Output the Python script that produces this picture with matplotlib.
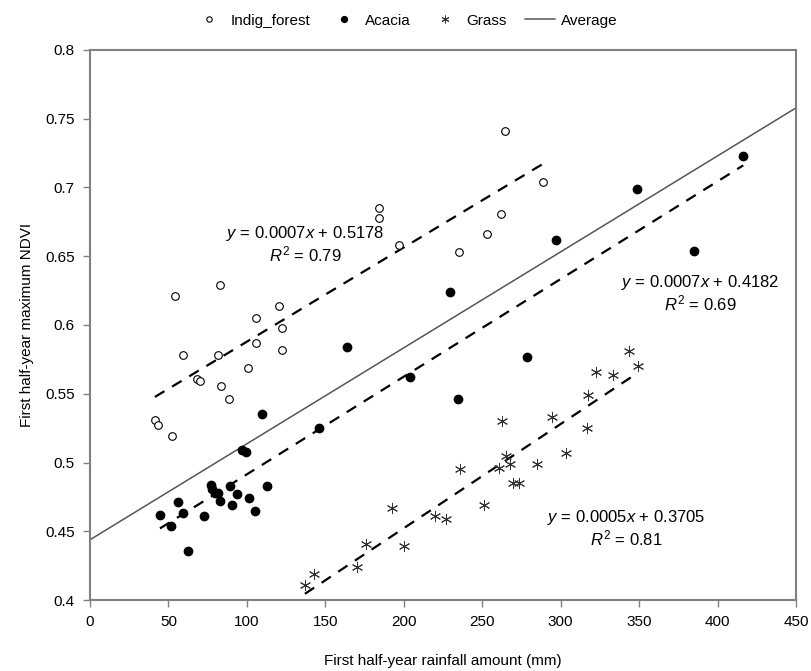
import numpy as np
import matplotlib
matplotlib.use("Agg")
import matplotlib.pyplot as plt

plt.rcParams['font.family'] = ['Liberation Sans', 'DejaVu Sans']
plt.rcParams['mathtext.fontset'] = 'custom'
plt.rcParams['mathtext.rm'] = 'Liberation Sans'
plt.rcParams['mathtext.it'] = 'Liberation Sans:italic'

# Indig_forest (open circles)
forest_x = [41.4, 43.6, 52.0, 59.1, 68.0, 70.1, 81.8, 83.7, 88.6, 100.5, 106.0, 106.0,
            120.7, 122.2, 122.6, 54.2, 82.9, 184.4, 184.4, 197.1, 235.0, 264.7, 289.0,
            261.8, 252.8]
forest_y = [0.531, 0.527, 0.519, 0.578, 0.561, 0.559, 0.578, 0.556, 0.546, 0.569, 0.587, 0.605,
            0.614, 0.598, 0.582, 0.621, 0.629, 0.685, 0.678, 0.658, 0.653, 0.741, 0.704,
            0.681, 0.666]

# Acacia (filled circles)
acacia_x = [44.6, 51.4, 55.9, 59.5, 62.5, 72.4, 77.1, 77.5, 79.7, 81.8, 82.6, 89.4, 90.3,
            93.9, 96.7, 99.4, 101.1, 105.4, 112.6, 109.8, 146.2, 164.0, 204.0, 229.2,
            234.8, 278.7, 297.0, 348.8, 385.0, 416.4]
acacia_y = [0.462, 0.454, 0.471, 0.463, 0.436, 0.461, 0.484, 0.481, 0.478, 0.478, 0.472, 0.483,
            0.469, 0.477, 0.509, 0.508, 0.474, 0.465, 0.483, 0.535, 0.525, 0.584, 0.562, 0.624,
            0.546, 0.577, 0.662, 0.699, 0.654, 0.723]

# Grass (asterisks)
grass_x = [137.0, 143.0, 170.0, 175.7, 192.3, 200.3, 219.9, 226.7, 235.6, 251.1, 260.7, 262.8,
           265.3, 267.7, 269.8, 273.6, 284.7, 294.3, 303.4, 317.6, 317.0, 322.5, 333.1,
           343.5, 349.3]
grass_y = [0.411, 0.419, 0.424, 0.441, 0.467, 0.439, 0.461, 0.459, 0.495, 0.469, 0.496, 0.530,
           0.505, 0.499, 0.485, 0.485, 0.499, 0.533, 0.507, 0.549, 0.525, 0.566, 0.564,
           0.581, 0.570]

# Average trend (slope, intercept)
avg_slope, avg_intercept = 0.000698, 0.4438

eq_forest = '$y$ = 0.0007$x$ + 0.5178\n$R^2$ = 0.79'
eq_acacia = '$y$ = 0.0007$x$ + 0.4182\n$R^2$ = 0.69'
eq_grass = '$y$ = 0.0005$x$ + 0.3705\n$R^2$ = 0.81'

fig = plt.figure(figsize=(8.12, 6.71), dpi=100)
ax = fig.add_axes([0.1108, 0.1058, 0.8695, 0.8197])

def trend(x, y):
    x = np.array(x)
    p = np.polyfit(x, y, 1)
    xs = np.array([x.min(), x.max()])
    ax.plot(xs, np.polyval(p, xs), color='black', lw=1.6, ls=(0, (5, 4)), zorder=2)

trend(forest_x, forest_y)
trend(acacia_x, acacia_y)
trend(grass_x, grass_y)

ax.plot(forest_x, forest_y, ls='none', marker='o', ms=5.5, mfc='white', mec='black', mew=0.8,
        label='Indig_forest', zorder=3)
ax.plot(acacia_x, acacia_y, ls='none', marker='o', ms=6, mfc='black', mec='black',
        label='Acacia', zorder=3)
ax.plot(grass_x, grass_y, ls='none', marker=(6, 2, 0), ms=8, mec='#333333', mew=0.7,
        label='Grass', zorder=3)
xa = np.array([0, 450])
ax.plot(xa, avg_slope * xa + avg_intercept, color='#555555', lw=1.1, label='Average', zorder=1)

ax.text(137, 0.6585, eq_forest, ha='center', va='center', fontsize=12, linespacing=1.1)
ax.text(388.8, 0.6233, eq_acacia, ha='center', va='center', fontsize=12, linespacing=1.1)
ax.text(342, 0.452, eq_grass, ha='center', va='center', fontsize=12, linespacing=1.1)

ax.set_xlim(0, 450)
ax.set_ylim(0.4, 0.8)
ax.set_xticks(np.arange(0, 451, 50))
ax.set_yticks(np.arange(0.4, 0.801, 0.05))
ax.set_yticklabels(['0.4', '0.45', '0.5', '0.55', '0.6', '0.65', '0.7', '0.75', '0.8'])
for s in ax.spines.values():
    s.set_color('#808080')
    s.set_linewidth(1.5)
ax.tick_params(direction='out', length=5, width=1, color='#808080', labelsize=11, pad=6)
ax.set_xlabel('First half-year rainfall amount (mm)', fontsize=11, labelpad=18)
ax.set_ylabel('First half-year maximum NDVI', fontsize=11, labelpad=8)

handles, labels = ax.get_legend_handles_labels()
fig.legend(handles, labels, loc='upper center', bbox_to_anchor=(0.5, 1.0), ncol=4,
           frameon=False, fontsize=11, markerscale=0.7, handlelength=2.0,
           columnspacing=1.2, handletextpad=0.4)

fig.savefig('out.png', dpi=100)
